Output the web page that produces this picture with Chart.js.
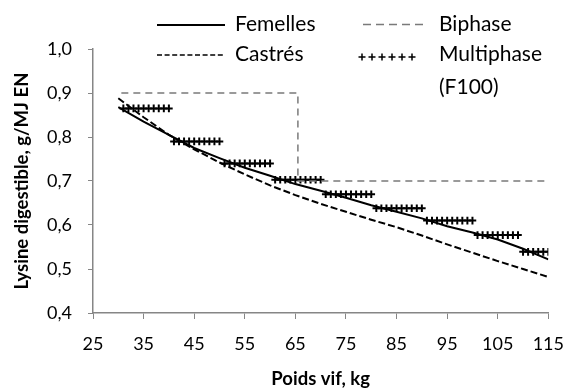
<!DOCTYPE html>
<html>
<head>
<meta charset="utf-8">
<script src="https://cdn.jsdelivr.net/npm/chart.js@4.4.1/dist/chart.umd.min.js"></script>
<style>
html,body{margin:0;padding:0;background:#fff;}
canvas{display:block;}
</style>
</head>
<body>
<canvas id="c" width="578" height="392"></canvas>
<script>
// ---- Data ----
const weights = [30, 35, 40, 45, 50, 55, 60, 65, 70, 75, 80, 85, 90, 95, 100, 105, 110, 115];
const femelles = [0.868, 0.835, 0.805, 0.775, 0.752, 0.730, 0.712, 0.693, 0.678, 0.662, 0.645, 0.630, 0.615, 0.597, 0.583, 0.567, 0.546, 0.522];
const castres  = [0.888, 0.845, 0.805, 0.772, 0.742, 0.715, 0.690, 0.668, 0.648, 0.630, 0.612, 0.595, 0.576, 0.556, 0.537, 0.518, 0.500, 0.482];
const biphaseX = [30.6, 65.5, 65.5, 115];
const biphaseY = [0.90, 0.90, 0.70, 0.70];
// Multiphase feeding: one level per phase, marks every kg
const phaseStart = [31, 41, 51, 61, 71, 81, 91, 101, 110];
const phaseEnd   = [40, 50, 60, 70, 80, 90, 100, 109, 115];
const phaseLevel = [0.865, 0.790, 0.740, 0.703, 0.670, 0.638, 0.610, 0.577, 0.539];
const xTicks = [25, 35, 45, 55, 65, 75, 85, 95, 105, 115];
const yTickLabels = ['0,4', '0,5', '0,6', '0,7', '0,8', '0,9', '1,0'];
const labels = ['Femelles', 'Castrés', 'Biphase', 'Multiphase (F100)'];

const multiPts = [];
phaseStart.forEach((s, i) => {
  for (let w = s; w <= phaseEnd[i]; w++) multiPts.push({x: w, y: phaseLevel[i]});
});

const FONT = 'Lato';
const AXIS = '#868686';

const legendPlugin = {
  id: 'customLegend',
  afterDraw(chart) {
    const ctx = chart.ctx;
    const ds = chart.data.datasets;
    ctx.save();
    ctx.font = '21px ' + FONT;
    ctx.fillStyle = '#000';
    ctx.textBaseline = 'middle';
    ctx.textAlign = 'left';
    // Femelles
    ctx.strokeStyle = ds[0].borderColor; ctx.lineWidth = 2; ctx.setLineDash([]);
    ctx.beginPath(); ctx.moveTo(157, 25); ctx.lineTo(225, 25); ctx.stroke();
    ctx.fillText(ds[0].label, 235, 24);
    // Castrés
    ctx.setLineDash([5, 2.6]); ctx.lineWidth = 1.6;
    ctx.beginPath(); ctx.moveTo(157, 55); ctx.lineTo(225, 55); ctx.stroke();
    ctx.fillText(ds[1].label, 235, 54);
    // Biphase
    ctx.strokeStyle = ds[2].borderColor; ctx.setLineDash([8, 5]); ctx.lineWidth = 1.5;
    ctx.beginPath(); ctx.moveTo(363, 24.5); ctx.lineTo(425, 24.5); ctx.stroke();
    ctx.fillText(ds[2].label, 439, 24);
    // Multiphase crosses
    ctx.setLineDash([]); ctx.strokeStyle = '#000'; ctx.lineWidth = 1.5;
    for (let i = 0; i < 6; i++) {
      const cx = 362 + i * 10, cy = 57;
      ctx.beginPath();
      ctx.moveTo(cx - 3.5, cy); ctx.lineTo(cx + 3.5, cy);
      ctx.moveTo(cx, cy - 3.5); ctx.lineTo(cx, cy + 3.5);
      ctx.stroke();
    }
    const parts = ds[3].label.split(' ');
    ctx.fillText(parts[0], 439, 54);
    ctx.fillText(parts[1], 439, 87);
    ctx.restore();
  }
};

new Chart(document.getElementById('c'), {
  type: 'scatter',
  data: {
    datasets: [
      { label: labels[0], data: weights.map((w, i) => ({x: w, y: femelles[i]})), showLine: true,
        borderColor: '#000', borderWidth: 2, pointRadius: 0, tension: 0 },
      { label: labels[1], data: weights.map((w, i) => ({x: w, y: castres[i]})), showLine: true,
        borderColor: '#000', borderWidth: 2, borderDash: [7, 3], pointRadius: 0, tension: 0 },
      { label: labels[2], data: biphaseX.map((w, i) => ({x: w, y: biphaseY[i]})), showLine: true,
        borderColor: '#7a7a7a', borderWidth: 1.5, borderDash: [7, 5], pointRadius: 0, tension: 0 },
      { label: labels[3], data: multiPts, showLine: false,
        pointStyle: 'cross', pointRadius: 3.8, pointBorderWidth: 2, borderColor: '#000', backgroundColor: '#000' }
    ]
  },
  options: {
    responsive: false,
    animation: false,
    events: [],
    layout: { padding: { top: 49, right: 19, left: 0, bottom: 0 } },
    plugins: { legend: { display: false }, tooltip: { enabled: false } },
    scales: {
      x: {
        type: 'linear', min: 25, max: 115,
        afterBuildTicks: s => { s.ticks = xTicks.map(v => ({value: v})); },
        afterFit: s => { s.height = 79; },
        ticks: { color: '#000', font: { family: FONT, size: 18 }, padding: 14, maxRotation: 0,
                 callback: v => String(v) },
        grid: { drawOnChartArea: false, drawTicks: true, tickLength: 6, color: AXIS, lineWidth: 1 },
        border: { color: AXIS, width: 1.5 },
        title: { display: true, text: 'Poids vif, kg', color: '#000',
                 font: { family: FONT, size: 18.5, weight: 'bold' }, padding: { top: 0, bottom: 2 } }
      },
      y: {
        min: 0.4, max: 1.0,
        afterBuildTicks: s => { s.ticks = yTickLabels.map((t, i) => ({value: 0.4 + i * 0.1})); },
        afterFit: s => { s.width = 93; },
        ticks: { color: '#000', font: { family: FONT, size: 18 }, padding: 16,
                 callback: (v, i) => yTickLabels[i] },
        grid: { drawOnChartArea: false, drawTicks: true, tickLength: 5, color: AXIS, lineWidth: 1 },
        border: { color: AXIS, width: 1.5 },
        title: { display: true, text: 'Lysine digestible, g/MJ EN', color: '#000',
                 font: { family: FONT, size: 18.5, weight: 'bold' }, padding: { top: 11, bottom: 0 } }
      }
    }
  },
  plugins: [legendPlugin]
});
</script>
</body>
</html>
